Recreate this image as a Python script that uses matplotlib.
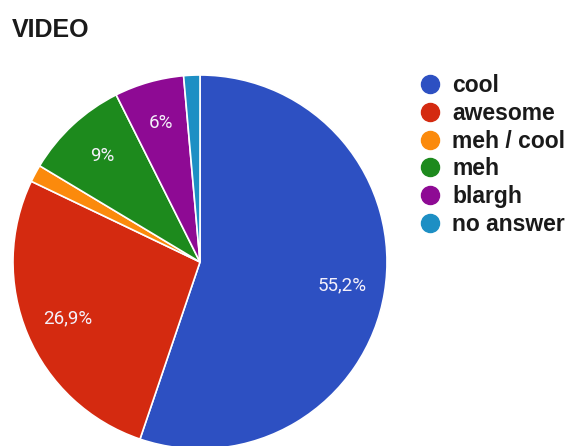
import math
import matplotlib.pyplot as plt
from matplotlib.lines import Line2D

# survey answers for the video question (percent)
labels = ['cool', 'awesome', 'meh / cool', 'meh', 'blargh', 'no answer']
values = [55.2, 26.9, 1.5, 9.0, 6.0, 1.4]
colors = ['#2d50c2', '#d42a10', '#fb8a0c', '#1d8a1d', '#8e0a94', '#1d8fc4']

plt.rcParams['font.family'] = ['Liberation Sans', 'DejaVu Sans']

fig = plt.figure(figsize=(5.71, 4.46), dpi=100)
fig.patch.set_facecolor('white')

ax = fig.add_axes([13 / 571, -3 / 446, 374 / 571, 374 / 446])


def pct_label(v):
    # only slices big enough get a label, decimal comma like the source form
    if v < 3:
        return ''
    txt = ('%.1f' % v).replace('.', ',')
    if txt.endswith(',0'):
        txt = txt[:-2]
    return txt + '%'


wedges, _ = ax.pie(values, colors=colors, startangle=90, counterclock=False,
                   radius=1.0, wedgeprops=dict(edgecolor='white', linewidth=1.2))

# percentage labels at the middle angle of each slice
angle = 90.0
for v, w in zip(values, wedges):
    sweep = v / sum(values) * 360.0
    mid = math.radians(angle - sweep / 2)
    angle -= sweep
    t = pct_label(v)
    if t:
        r = 0.77
        ax.text(r * math.cos(mid), r * math.sin(mid), t, ha='center', va='center',
                color='#f4f0fa', fontsize=13.5, family=['Roboto', 'DejaVu Sans'])

ax.set_xlim(-1, 1)
ax.set_ylim(-1, 1)
ax.set_aspect('equal')
ax.axis('off')

fig.text(12 / 571, 1 - 30 / 446, 'VIDEO', fontsize=18, fontweight='bold',
         ha='left', va='center', color='#1a1a1a')

handles = [Line2D([], [], marker='o', linestyle='', markersize=13,
                  markerfacecolor=c, markeredgecolor=c) for c in colors]
leg = fig.legend(handles, labels, loc='upper left',
                 bbox_to_anchor=(419 / 571, 1 - 74 / 446), frameon=False,
                 prop=dict(size=16.5, weight='bold'), handlelength=1.0,
                 handletextpad=0.45, labelspacing=0.21, borderaxespad=0,
                 borderpad=0)
for t in leg.get_texts():
    t.set_color('#1a1a1a')

fig.savefig('out.png', dpi=100)
